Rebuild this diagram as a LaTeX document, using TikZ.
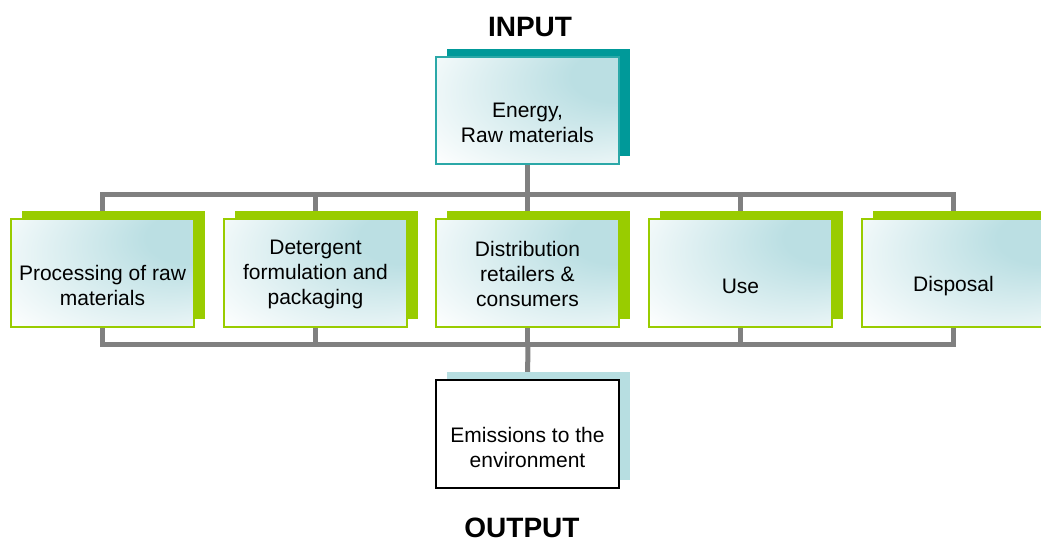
\documentclass[tikz,border=0pt]{standalone}
\usepackage{fontspec}
\setmainfont{Liberation Sans}
\usetikzlibrary{shadows,backgrounds}
\definecolor{tealD}{HTML}{009999}
\definecolor{tealB}{HTML}{2BA8A8}
\definecolor{greenD}{HTML}{99CC00}
\definecolor{tealL}{HTML}{BBDFE3}
\definecolor{shadowL}{HTML}{B7DEE1}
\definecolor{busgray}{HTML}{808080}
\pgfdeclareradialshading{boxshade}{\pgfpoint{30bp}{20bp}}{color(0bp)=(tealL);color(12bp)=(tealL);color(45bp)=(white);color(60bp)=(white)}
\begin{document}
\begin{tikzpicture}[x=1pt,y=-1pt,
  box/.style={minimum width=183pt, minimum height=108pt, inner sep=0pt, line width=2pt, shading=boxshade},
  shad/.style={general shadow={fill=#1, shadow xshift=11pt, shadow yshift=8pt}},
  txt/.style={align=center, font=\fontsize{21}{25}\selectfont, inner sep=0pt},
  title/.style={font=\bfseries\fontsize{28}{32}\selectfont, inner sep=0pt},
  bus/.style={draw=busgray, line width=5pt, line join=miter}]
\useasboundingbox (0,0) rectangle (1041,542);

\node[title] (in) at (530,27) {INPUT};
\node[title] (out) at (522,527.5) {OUTPUT};

\node[box, shad=tealD, draw=tealB, minimum height=107pt] (e) at (527.5,110.5) {};
\node[txt] (te) at ([yshift=-12.5pt]e.center) {Energy,\\Raw materials};

\node[box, shad=greenD, draw=greenD] (p1) at (102.5,272.5) {};
\node[box, shad=greenD, draw=greenD] (p2) at (315.5,272.5) {};
\node[box, shad=greenD, draw=greenD] (p3) at (527.5,272.5) {};
\node[box, shad=greenD, draw=greenD] (p4) at (740.5,272.5) {};
\node[box, shad=greenD, draw=greenD] (p5) at (953.5,272.5) {};

\node[txt] (t1) at ([yshift=-12.5pt]p1.center) {Processing of raw\\materials};
\node[txt] (t2) at ([yshift=-1.5pt]p2.center) {Detergent\\formulation and\\packaging};
\node[txt] (t3) at ([yshift=-1pt]p3.center) {Distribution\\retailers \&\\consumers};
\node[txt] (t4) at ([yshift=-13.5pt]p4.center) {Use};
\node[txt] (t5) at ([yshift=-13.5pt]p5.center) {Disposal};

\node[minimum width=183pt, minimum height=108pt, inner sep=0pt, line width=2pt, draw=black, fill=white, shad=shadowL] (em) at (527.5,434) {};
\node[txt] (tem) at ([yshift=-13pt]em.center) {Emissions to the\\environment};

\coordinate (tb) at (528,194);
\coordinate (bb) at (528,344);
\begin{scope}[on background layer]
\draw[bus] (e.south) -- (e.south |- tb);
\draw[bus] (p1.north) |- (tb) -| (p5.north);
\draw[bus] (p2.north) -- (p2.north |- tb);
\draw[bus] (p3.north) -- (p3.north |- tb);
\draw[bus] (p4.north) -- (p4.north |- tb);
\draw[bus] (p1.south) |- (bb) -| (p5.south);
\draw[bus] (p2.south) -- (p2.south |- bb);
\draw[bus] (p3.south) -- (p3.south |- bb);
\draw[bus] (p4.south) -- (p4.south |- bb);
\draw[bus] (bb) -- (em.north);
\end{scope}
\end{tikzpicture}
\end{document}
